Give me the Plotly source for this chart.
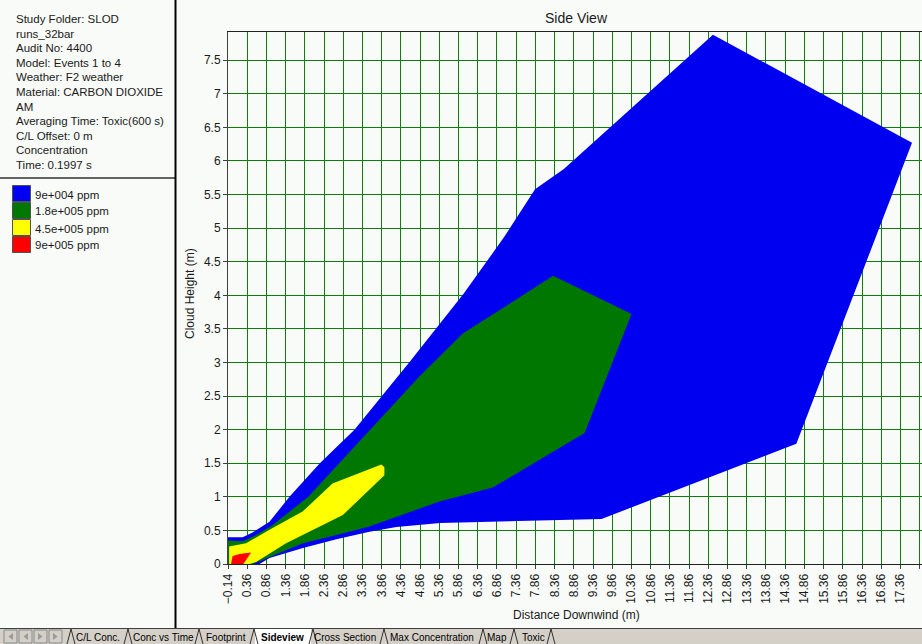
import plotly.graph_objects as go

# ---- cloud side-view contours (distance downwind vs cloud height, m) ----
blue_x = [-0.14, 0.24, 0.50, 0.94, 1.46, 2.25, 3.15, 4.59, 6.00, 7.05, 7.85, 8.60,
          12.48, 17.66, 14.65, 9.58, 5.38, 4.24, 3.54, 2.68, 1.81, 0.94, 0.68, -0.14]
blue_y = [0.40, 0.40, 0.47, 0.63, 1.00, 1.50, 2.00, 3.01, 4.03, 4.87, 5.58, 5.88,
          7.88, 6.27, 1.79, 0.67, 0.61, 0.55, 0.48, 0.37, 0.24, 0.09, 0.00, 0.00]

green_x = [-0.14, 0.24, 0.59, 1.00, 1.95, 3.37, 4.84, 5.97, 8.32, 10.36, 9.14,
           6.75, 5.36, 3.54, 2.68, 1.81, 0.94, 0.50, -0.14]
green_y = [0.35, 0.34, 0.43, 0.57, 1.00, 1.875, 2.79, 3.43, 4.29, 3.72, 1.95,
           1.14, 0.93, 0.56, 0.43, 0.31, 0.11, 0.00, 0.00]

yellow_x = [-0.11, 0.33, 0.94, 1.80, 2.58, 2.93, 3.85, 3.93, 3.93, 2.85, 1.37, 0.59, 0.42, -0.11]
yellow_y = [0.26, 0.31, 0.51, 0.78, 1.20, 1.28, 1.48, 1.44, 1.32, 0.73, 0.31, 0.03, 0.00, 0.00]

red_x = [-0.06, -0.02, 0.16, 0.46, 0.26, -0.06]
red_y = [0.00, 0.12, 0.15, 0.17, 0.00, 0.00]

levels = ["9e+004 ppm", "1.8e+005 ppm", "4.5e+005 ppm", "9e+005 ppm"]
level_colors = ["#0000f0", "#007800", "#ffff00", "#ff0000"]

info_lines = [
    "Study Folder: SLOD",
    "runs_32bar",
    "Audit No: 4400",
    "Model: Events 1 to 4",
    "Weather: F2 weather",
    "Material: CARBON DIOXIDE",
    "AM",
    "Averaging Time: Toxic(600 s)",
    "C/L Offset: 0 m",
    "Concentration",
    "Time: 0.1997 s",
]

tabs = ["C/L Conc.", "Conc vs Time", "Footprint", "Sideview", "Cross Section",
        "Max Concentration", "Map", "Toxic"]
tab_centers = [98, 163, 226, 282, 345, 432, 497, 533]
tab_edges = [70, 127, 198, 253, 312, 383, 482, 513, 550]
active_tab = "Sideview"

x_min, x_max = -0.14, 17.92
y_min, y_max = 0.0, 7.92

W, H = 922, 644
L, R, T, B = 228, 922, 32, 564
FONT = "Liberation Sans, Arial, sans-serif"


def px(x):
    return (x - L) / (R - L)


def py(y):
    return (B - y) / (B - T)


fig = go.Figure()
for xs, ys, c in zip([blue_x, green_x, yellow_x, red_x],
                     [blue_y, green_y, yellow_y, red_y], level_colors):
    fig.add_trace(go.Scatter(x=xs, y=ys, mode="lines", fill="toself",
                             fillcolor=c, line=dict(width=0, color=c),
                             hoverinfo="skip", showlegend=False))

shapes = []
annotations = []

# left information panel
for i, line in enumerate(info_lines):
    annotations.append(dict(x=px(14), y=py(19 + i * 14.6), xref="paper", yref="paper",
                            text=line, showarrow=False, xanchor="left", yanchor="middle",
                            font=dict(family=FONT, size=11.5, color="#1a1a1a")))
shapes.append(dict(type="line", xref="paper", yref="paper", x0=px(0), x1=px(175),
                   y0=py(178), y1=py(178), line=dict(color="#303030", width=1.5)))
shapes.append(dict(type="line", xref="paper", yref="paper", x0=px(175.5), x1=px(175.5),
                   y0=py(0), y1=py(628), line=dict(color="#000000", width=2)))

# level key
for i, (lab, c) in enumerate(zip(levels, level_colors)):
    top = 185.5 + i * 17
    shapes.append(dict(type="rect", xref="paper", yref="paper", x0=px(12.5), x1=px(30.5),
                       y0=py(top), y1=py(top + 16), fillcolor=c,
                       line=dict(color="#505050", width=1)))
    annotations.append(dict(x=px(33), y=py(top + 9), xref="paper", yref="paper",
                            text=lab, showarrow=False, xanchor="left", yanchor="middle",
                            font=dict(family=FONT, size=11.5, color="#1a1a1a")))

# titles
annotations.append(dict(x=px(576), y=py(18), xref="paper", yref="paper", text="Side View",
                        showarrow=False, xanchor="center", yanchor="middle",
                        font=dict(family=FONT, size=14, color="#1a1a1a")))
annotations.append(dict(x=px(576), y=py(615), xref="paper", yref="paper",
                        text="Distance Downwind (m)", showarrow=False,
                        xanchor="center", yanchor="middle",
                        font=dict(family=FONT, size=12, color="#1a1a1a")))
annotations.append(dict(x=px(190), y=py(294), xref="paper", yref="paper",
                        text="Cloud Height (m)", showarrow=False, textangle=-90,
                        xanchor="center", yanchor="middle",
                        font=dict(family=FONT, size=12, color="#1a1a1a")))

# sheet tab bar
shapes.append(dict(type="rect", xref="paper", yref="paper", x0=px(0), x1=px(W),
                   y0=py(628), y1=py(H), fillcolor="#d4d0c8", line=dict(width=0)))
shapes.append(dict(type="line", xref="paper", yref="paper", x0=px(0), x1=px(W),
                   y0=py(628.5), y1=py(628.5), line=dict(color="#404040", width=1)))
for k in range(4):
    x0 = 4 + k * 15
    shapes.append(dict(type="rect", xref="paper", yref="paper", x0=px(x0), x1=px(x0 + 13),
                       y0=py(630), y1=py(643), fillcolor="#d4d0c8",
                       line=dict(color="#8a8a8a", width=1)))
    cx = x0 + 6.5
    if k < 2:
        path = f"M {px(cx + 2.5)} {py(633)} L {px(cx - 2)} {py(636.5)} L {px(cx + 2.5)} {py(640)} Z"
    else:
        path = f"M {px(cx - 2.5)} {py(633)} L {px(cx + 2)} {py(636.5)} L {px(cx - 2.5)} {py(640)} Z"
    shapes.append(dict(type="path", xref="paper", yref="paper", path=path,
                       fillcolor="#9a9a9a", line=dict(width=0)))
ai = tabs.index(active_tab)
shapes.append(dict(type="rect", xref="paper", yref="paper", x0=px(tab_edges[ai] + 2),
                   x1=px(tab_edges[ai + 1] - 1), y0=py(629), y1=py(644),
                   fillcolor="#ffffff", line=dict(width=0)))
for e in tab_edges:
    shapes.append(dict(type="line", xref="paper", yref="paper", x0=px(e - 3), x1=px(e + 1),
                       y0=py(644), y1=py(629), line=dict(color="#303030", width=1)))
    shapes.append(dict(type="line", xref="paper", yref="paper", x0=px(e + 1), x1=px(e + 5),
                       y0=py(629), y1=py(644), line=dict(color="#303030", width=1)))
for name, cx in zip(tabs, tab_centers):
    bold = name == active_tab
    annotations.append(dict(x=px(cx), y=py(637), xref="paper", yref="paper",
                            text=f"<b>{name}</b>" if bold else name, showarrow=False,
                            xanchor="center", yanchor="middle",
                            font=dict(family=FONT, size=10, color="#000000")))

fig.update_layout(
    width=W, height=H,
    margin=dict(l=L, r=W - R, t=T, b=H - B),
    paper_bgcolor="#f8fbf8", plot_bgcolor="#f8fbf8",
    showlegend=False, hovermode=False,
    shapes=shapes, annotations=annotations,
    font=dict(family=FONT, size=12, color="#1a1a1a"),
)
fig.update_xaxes(range=[x_min, x_max], tick0=-0.14, dtick=0.5, tickformat=".2f",
                 tickangle=-90, ticks="outside", ticklen=4, tickcolor="#404040",
                 showgrid=True, gridcolor="#0a800a", gridwidth=1, zeroline=False,
                 showline=True, linecolor="#202020", linewidth=1, mirror=True,
                 tickfont=dict(family=FONT, size=12, color="#1a1a1a"))
fig.update_yaxes(range=[y_min, y_max], tick0=0, dtick=0.5,
                 ticks="outside", ticklen=4, tickcolor="#404040",
                 showgrid=True, gridcolor="#0a800a", gridwidth=1, zeroline=False,
                 showline=True, linecolor="#404040", linewidth=1,
                 tickfont=dict(family=FONT, size=12, color="#1a1a1a"))

fig.write_html("out.html", config={"displayModeBar": False})
